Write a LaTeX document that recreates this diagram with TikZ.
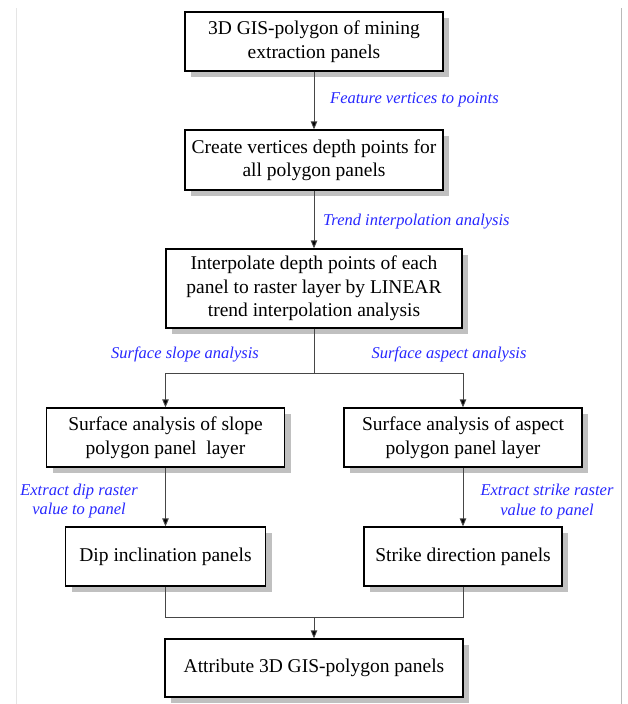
\documentclass[tikz,border=0pt]{standalone}
\usepackage{fontspec}
\setmainfont{Liberation Serif}
\usetikzlibrary{arrows.meta,shadows}
\definecolor{lblblue}{RGB}{40,40,255}
\definecolor{shadowgray}{RGB}{192,192,192}
\definecolor{linegray}{RGB}{70,70,70}
\begin{document}
\begin{tikzpicture}[x=1pt,y=-1pt,
  box/.style={draw=black, line width=1.3pt, fill=white, align=center,
    inner sep=0pt, font=\fontsize{19.5}{23.5}\selectfont,
    drop shadow={shadow xshift=6pt, shadow yshift=-6pt, fill=shadowgray, opacity=1}},
  lbl/.style={text=lblblue, align=center, inner sep=0pt,
    font=\fontsize{16.5}{19.5}\selectfont\itshape},
  conn/.style={draw=linegray, line width=0.9pt},
  arr/.style={conn, -{Triangle[length=8pt,width=6.5pt,fill=black]}}]
\useasboundingbox (0,0) rectangle (628,704);
\fill[white] (0,0) rectangle (628,704);
\draw[gray!20, line width=0.8pt] (16,8) -- (16,704);
\draw[gray!55, line width=0.8pt] (621,8) -- (621,704);

\node[box, minimum width=258pt, minimum height=59pt] (b1) at (314,41.5)
  {3D GIS-polygon of mining\\extraction panels};
\node[box, minimum width=258pt, minimum height=60pt] (b2) at (314,160)
  {Create vertices depth points for\\all polygon panels};
\node[box, minimum width=296pt, minimum height=79pt] (b3) at (314,288.5)
  {Interpolate depth points of each\\panel to raster layer by LINEAR\\trend interpolation analysis};
\node[box, minimum width=238pt, minimum height=59pt] (b4) at (165.5,437.5)
  {Surface analysis of slope\\polygon panel\ \ layer};
\node[box, minimum width=238pt, minimum height=59pt] (b5) at (463,437.5)
  {Surface analysis of aspect\\polygon panel layer};
\node[box, minimum width=200pt, minimum height=59pt] (b6) at (165.5,556.5)
  {Dip inclination panels};
\node[box, minimum width=198pt, minimum height=59pt] (b7) at (463,556.5)
  {Strike direction panels};
\node[box, minimum width=298pt, minimum height=58pt] (b8) at (314,668)
  {Attribute 3D GIS-polygon panels};

\node[lbl, anchor=west] (l1) at (330,100) {Feature vertices to points};
\node[lbl, anchor=west] (l2) at (323,222) {Trend interpolation analysis};
\node[lbl] (l3) at (185,354) {Surface slope analysis};
\node[lbl] (l4) at (449,354) {Surface aspect analysis};
\node[lbl] (l5) at (79,501) {Extract dip raster\\value to panel};
\node[lbl] (l6) at (547,501.5) {Extract strike raster\\value to panel};

\coordinate (split) at (314,373);
\coordinate (merge) at (314,617);

\draw[arr] (b1.south) -- (b2.north);
\draw[arr] (b2.south) -- (b3.north);
\draw[conn] (b3.south) -- (split);
\draw[arr] (split) -| (b4.north);
\draw[arr] (split) -| (b5.north);
\draw[arr] (b4.south) -- (b6.north);
\draw[arr] (b5.south) -- (b7.north);
\draw[conn] (b6.south) |- (merge);
\draw[conn] (b7.south) |- (merge);
\draw[arr] (merge) -- (b8.north);
\end{tikzpicture}
\end{document}
